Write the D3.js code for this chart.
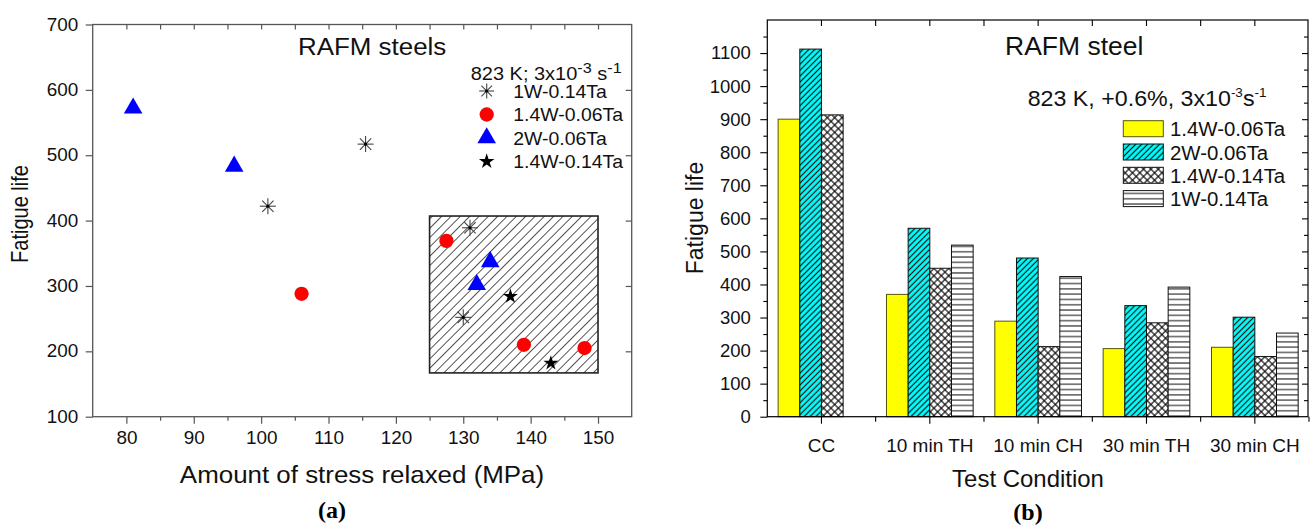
<!DOCTYPE html>
<html>
<head>
<meta charset="utf-8">
<script src="https://cdn.jsdelivr.net/npm/d3@7"></script>
<style>
  body { margin: 0; background: #fff; }
  svg { display: block; font-family: "Liberation Sans", Arial, sans-serif; }
</style>
</head>
<body>
<svg id="chart" width="1310" height="528"></svg>
<script>
// ---------- panel (a): fatigue life vs stress relaxed ----------
const scatterNames = ['1W-0.14Ta', '1.4W-0.06Ta', '2W-0.06Ta', '1.4W-0.14Ta'];
const relaxed1W014 = [101, 115.5, 131, 130];
const life1W014 = [422, 517, 389, 252];
const relaxed14W006 = [106, 127.5, 139, 148];
const life14W006 = [288, 369, 210, 205];
const relaxed2W006 = [81, 96, 134, 132];
const life2W006 = [572, 483, 337, 302];
const relaxed14W014 = [137, 143];
const life14W014 = [284, 182];
const boxRelaxed = [125, 150];
const boxLife = [167, 407];
const xTicksA = [80, 90, 100, 110, 120, 130, 140, 150];
const yTicksA = [100, 200, 300, 400, 500, 600, 700];

// ---------- panel (b): fatigue life per test condition ----------
const conditions = ['CC', '10 min TH', '10 min CH', '30 min TH', '30 min CH'];
const barNames = ['1.4W-0.06Ta', '2W-0.06Ta', '1.4W-0.14Ta', '1W-0.14Ta'];
const bar14W006 = [900, 370, 289, 206, 210];
const bar2W006 = [1112, 570, 480, 336, 301];
const bar14W014 = [913, 449, 212, 284, 182];
const bar1W014 = [0, 519, 424, 392, 253];
const yTicksB = [0, 100, 200, 300, 400, 500, 600, 700, 800, 900, 1000, 1100];

const svg = d3.select('#chart');
const defs = svg.append('defs');

// hatch patterns
function linePattern(id, size, angle, bg, color, w, cross) {
  const p = defs.append('pattern')
    .attr('id', id)
    .attr('patternUnits', 'userSpaceOnUse')
    .attr('width', size).attr('height', size)
    .attr('patternTransform', `rotate(${angle})`);
  if (bg) p.append('rect').attr('width', size).attr('height', size).attr('fill', bg);
  p.append('line')
    .attr('x1', size / 2).attr('y1', 0).attr('x2', size / 2).attr('y2', size)
    .attr('stroke', color).attr('stroke-width', w);
  if (cross) {
    p.append('line')
      .attr('x1', 0).attr('y1', size / 2).attr('x2', size).attr('y2', size / 2)
      .attr('stroke', color).attr('stroke-width', w);
  }
}
linePattern('boxHatch', 6.6, 45, null, '#444', 0.9, false);
linePattern('cyanHatch', 4.2, 45, '#00ffff', '#111', 1.2, false);
linePattern('crossHatch', 5.2, 45, '#fff', '#000', 1.1, true);
linePattern('horizHatch', 5.3, 90, '#fff', '#222', 1.1, false);

// text with a bit of horizontal stretch, like the scanned figure
function label(g, x, y, str, size, anchor, sx) {
  return g.append('text')
    .attr('transform', `translate(${x},${y}) scale(${sx || 1},1)`)
    .attr('text-anchor', anchor || 'start')
    .style('font-size', size + 'px')
    .attr('fill', '#111')
    .text(str);
}
function stretchTicks(sel, sx) {
  sel.selectAll('text')
    .attr('transform', `scale(${sx},1)`)
    .attr('x', function() { return (+d3.select(this).attr('x') || 0) / sx; });
}

// =================== panel (a) ===================
function drawLeft() {
  const SX = 1.08;
  const g = svg.append('g');
  const x = d3.scaleLinear().domain([75, 155]).range([92.7, 631.7]);
  const y = d3.scaleLinear().domain([100, 700]).range([416.7, 24.5]);

  // hatched region
  g.append('rect')
    .attr('x', x(boxRelaxed[0])).attr('y', y(boxLife[1]))
    .attr('width', x(boxRelaxed[1]) - x(boxRelaxed[0]))
    .attr('height', y(boxLife[0]) - y(boxLife[1]))
    .attr('fill', 'url(#boxHatch)')
    .attr('stroke', '#222').attr('stroke-width', 1.6);

  // axes
  const bottom = g.append('g').attr('transform', `translate(0,${y(100)})`)
    .call(d3.axisBottom(x).tickValues(xTicksA).tickSize(7).tickPadding(8).tickSizeOuter(0));
  g.append('g').attr('transform', `translate(0,${y(100)})`)
    .call(d3.axisBottom(x).tickValues(d3.range(85, 150, 10)).tickSize(4).tickFormat('').tickSizeOuter(0));
  g.append('g').attr('transform', `translate(0,${y(700)})`)
    .call(d3.axisBottom(x).tickValues(d3.range(80, 151, 5)).tickSize(5).tickFormat('').tickSizeOuter(0));
  const left = g.append('g').attr('transform', `translate(${x(75)},0)`)
    .call(d3.axisLeft(y).tickValues(yTicksA).tickSize(7).tickPadding(7.4).tickSizeOuter(0));
  g.append('g').attr('transform', `translate(${x(155)},0)`)
    .call(d3.axisLeft(y).tickValues([200, 300, 400, 500, 600]).tickSize(6).tickFormat('').tickSizeOuter(0));
  g.selectAll('.domain').remove();
  g.selectAll('.tick line').attr('stroke', '#555').attr('stroke-width', 1.2);
  g.selectAll('.tick text').style('font-size', '17.5px').attr('fill', '#111')
    .style('font-family', '"Liberation Sans", Arial, sans-serif');
  stretchTicks(bottom, SX);
  stretchTicks(left, SX);

  g.append('rect')
    .attr('x', x(75)).attr('y', y(700))
    .attr('width', x(155) - x(75)).attr('height', y(100) - y(700))
    .attr('fill', 'none').attr('stroke', '#555').attr('stroke-width', 1.3);

  // markers
  const asterisk = (gg, cx, cy, r) => {
    const a = gg.append('g').attr('transform', `translate(${cx},${cy})`);
    [0, 45, 90, 135].forEach(ang => {
      const t = ang * Math.PI / 180;
      a.append('line')
        .attr('x1', -r * Math.cos(t)).attr('y1', -r * Math.sin(t))
        .attr('x2', r * Math.cos(t)).attr('y2', r * Math.sin(t))
        .attr('stroke', '#444').attr('stroke-width', 1.1);
    });
    a.append('circle').attr('r', 1.6).attr('fill', '#000');
  };
  const sym = (gg, type, size, fill, cx, cy) => gg.append('path')
    .attr('d', d3.symbol().type(type).size(size)())
    .attr('transform', `translate(${cx},${cy})`)
    .attr('fill', fill);

  relaxed1W014.forEach((v, i) => asterisk(g, x(v), y(life1W014[i]), 8));
  relaxed14W006.forEach((v, i) => sym(g, d3.symbolCircle, 160, '#ff0000', x(v), y(life14W006[i])));
  relaxed2W006.forEach((v, i) => sym(g, d3.symbolTriangle, 150, '#0000ff', x(v), y(life2W006[i])));
  relaxed14W014.forEach((v, i) => sym(g, d3.symbolStar, 70, '#000', x(v), y(life14W014[i])));

  // texts
  label(g, 298, 55, 'RAFM steels', 24, 'start', SX);
  const hdr = g.append('text')
    .attr('transform', `translate(470.7,80) scale(${SX},1)`)
    .style('font-size', '18.5px').attr('fill', '#111');
  hdr.append('tspan').text('823 K; 3x10');
  hdr.append('tspan').attr('dy', -7).style('font-size', '15px').text('-3');
  hdr.append('tspan').attr('dy', 7).text(' s');
  hdr.append('tspan').attr('dy', -7).style('font-size', '15px').text('-1');

  const legendY = [91, 114.5, 138, 161.5];
  asterisk(g, 486.7, legendY[0], 7.5);
  sym(g, d3.symbolCircle, 160, '#ff0000', 486.7, legendY[1]);
  sym(g, d3.symbolTriangle, 150, '#0000ff', 486.7, legendY[2]);
  sym(g, d3.symbolStar, 75, '#000', 486.7, legendY[3]);
  scatterNames.forEach((n, i) => label(g, 513.3, legendY[i] + 6.5, n, 18, 'start', SX));

  label(g, 362, 483, 'Amount of stress relaxed (MPa)', 24, 'middle', SX);
  g.append('text')
    .attr('transform', `translate(28,214) scale(1.2,1) rotate(-90)`)
    .attr('text-anchor', 'middle')
    .style('font-size', '20px').attr('fill', '#111')
    .text('Fatigue life');
  g.append('text')
    .attr('x', 332).attr('y', 518)
    .attr('text-anchor', 'middle')
    .style('font-family', '"Liberation Serif", "Times New Roman", serif')
    .style('font-weight', 'bold').style('font-size', '24px')
    .text('(a)');
}

// =================== panel (b) ===================
function drawRight() {
  const g = svg.append('g');
  const x = d3.scaleBand().domain(conditions).range([767.3, 1309]);
  const xSub = d3.scaleBand().domain(barNames).range([0, x.bandwidth()]).paddingOuter(0.5);
  const y = d3.scaleLinear().domain([0, 1200]).range([416.7, 20]);

  const series = [
    { name: barNames[0], values: bar14W006, fill: '#ffff00', stroke: '#55550a' },
    { name: barNames[1], values: bar2W006, fill: 'url(#cyanHatch)', stroke: '#111' },
    { name: barNames[2], values: bar14W014, fill: 'url(#crossHatch)', stroke: '#111' },
    { name: barNames[3], values: bar1W014, fill: 'url(#horizHatch)', stroke: '#111' }
  ];

  series.forEach(s => {
    g.append('g').selectAll('rect')
      .data(conditions.map((c, i) => ({ c: c, v: s.values[i] })).filter(d => d.v > 0))
      .join('rect')
      .attr('x', d => x(d.c) + xSub(s.name))
      .attr('y', d => y(d.v))
      .attr('width', xSub.bandwidth())
      .attr('height', d => y(0) - y(d.v))
      .attr('fill', s.fill)
      .attr('stroke', s.stroke)
      .attr('stroke-width', 1);
  });

  // axes
  const edges = conditions.map(c => x(c)).slice(1).concat([x.range()[1]]);
  g.append('g').attr('transform', `translate(0,${y(0)})`)
    .call(d3.axisBottom(x).tickSize(7).tickPadding(15).tickSizeOuter(0));
  g.append('g').selectAll('line').data(edges).join('line')
    .attr('x1', d => d).attr('x2', d => d)
    .attr('y1', y(0)).attr('y2', y(0) + 5);
  g.append('g').selectAll('line').data(conditions).join('line')
    .attr('x1', d => x(d) + x.bandwidth() / 2).attr('x2', d => x(d) + x.bandwidth() / 2)
    .attr('y1', y(1200)).attr('y2', y(1200) + 6);
  g.append('g').selectAll('line').data(edges.slice(0, -1)).join('line')
    .attr('x1', d => d).attr('x2', d => d)
    .attr('y1', y(1200)).attr('y2', y(1200) + 6);
  g.selectAll('g > line').attr('stroke', '#000').attr('stroke-width', 1.1);

  g.append('g').attr('transform', `translate(${x.range()[0]},0)`)
    .call(d3.axisLeft(y).tickValues(yTicksB).tickFormat(d3.format('d')).tickSize(7).tickPadding(9.5).tickSizeOuter(0));
  g.append('g').attr('transform', `translate(${x.range()[0]},0)`)
    .call(d3.axisLeft(y).tickValues(d3.range(50, 1200, 100)).tickSize(4).tickFormat('').tickSizeOuter(0));
  g.append('g').attr('transform', `translate(${x.range()[1] - 1},0)`)
    .call(d3.axisLeft(y).tickValues(d3.range(100, 1200, 100)).tickSize(6).tickFormat('').tickSizeOuter(0));
  g.append('g').attr('transform', `translate(${x.range()[1] - 1},0)`)
    .call(d3.axisLeft(y).tickValues(d3.range(50, 1200, 100)).tickSize(4).tickFormat('').tickSizeOuter(0));
  g.selectAll('.domain').remove();
  g.selectAll('.tick line').attr('stroke', '#000').attr('stroke-width', 1.1);
  g.selectAll('.tick text').attr('fill', '#111')
    .style('font-family', '"Liberation Sans", Arial, sans-serif');
  g.selectAll('.tick text').filter(d => typeof d === 'number').style('font-size', '18.5px');
  g.selectAll('.tick text').filter(d => typeof d === 'string').style('font-size', '19px');

  g.append('rect')
    .attr('x', x.range()[0]).attr('y', y(1200))
    .attr('width', x.range()[1] - 1 - x.range()[0]).attr('height', y(0) - y(1200))
    .attr('fill', 'none').attr('stroke', '#000').attr('stroke-width', 1.2);

  // texts
  label(g, 1005, 55, 'RAFM steel', 25, 'start', 1.06);
  const hdr = g.append('text')
    .attr('transform', 'translate(1027.7,106) scale(1.08,1)')
    .style('font-size', '21.5px').attr('fill', '#111');
  hdr.append('tspan').text('823 K, +0.6%, 3x10');
  hdr.append('tspan').attr('dy', -9).style('font-size', '12.5px').text('-3');
  hdr.append('tspan').attr('dy', 9).text('s');
  hdr.append('tspan').attr('dy', -9).style('font-size', '12.5px').text('-1');

  series.forEach((s, i) => {
    const top = 120.7 + i * 23.3;
    g.append('rect')
      .attr('x', 1123.3).attr('y', top)
      .attr('width', 40).attr('height', 16)
      .attr('fill', s.fill).attr('stroke', s.stroke).attr('stroke-width', 1);
    label(g, 1170, top + 15.5, s.name, 20, 'start', 1.02);
  });

  label(g, 1028, 486.7, 'Test Condition', 23.5, 'middle', 1.02);
  g.append('text')
    .attr('transform', 'translate(703,218) rotate(-90)')
    .attr('text-anchor', 'middle')
    .style('font-size', '23px').attr('fill', '#111')
    .text('Fatigue life');
  g.append('text')
    .attr('x', 1028).attr('y', 520)
    .attr('text-anchor', 'middle')
    .style('font-family', '"Liberation Serif", "Times New Roman", serif')
    .style('font-weight', 'bold').style('font-size', '24px')
    .text('(b)');
}

drawLeft();
drawRight();
</script>
</body>
</html>
